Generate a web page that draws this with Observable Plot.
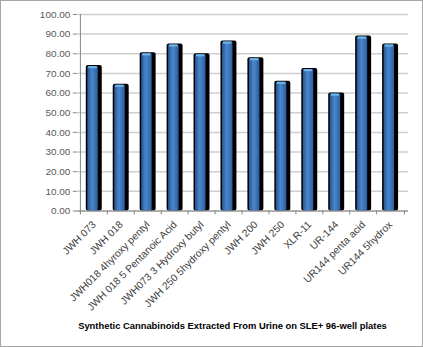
<!DOCTYPE html>
<html><head><meta charset="utf-8">
<script src="https://cdn.jsdelivr.net/npm/d3@7"></script>
<script src="https://cdn.jsdelivr.net/npm/@observablehq/plot@0.6"></script>
<style>
body{margin:0;background:#fff;}
#wrap{position:relative;width:423px;height:347px;box-sizing:border-box;border:1px solid #a6a6a6;overflow:hidden;font-family:"Liberation Sans",Arial,sans-serif;}
#chart{position:absolute;left:-1px;top:-1px;}
#title{position:absolute;left:0;width:423px;top:319px;text-align:center;font-weight:bold;font-size:9.4px;color:#000;padding-left:40px;box-sizing:border-box;}
</style></head>
<body>
<div id="wrap"><div id="chart"></div><div id="title">Synthetic Cannabinoids Extracted From Urine on SLE+ 96-well plates</div></div>
<script>
const categories = ["JWH 073","JWH 018","JWH018 4hyroxy pentyl","JWH 018 5 Pentanoic Acid","JWH073 3 Hydroxy butyl","JWH 250 5hydroxy pentyl","JWH 200","JWH 250","XLR-11","UR-144","UR144 penta acid","UR144 5hydrox"];
const values = [74, 64.5, 80.5, 85, 80, 86.5, 78, 66, 72.5, 60, 89, 85];
const yTicks = [0,10,20,30,40,50,60,70,80,90,100];
const data = categories.map((c,i)=>({cat:c, v:values[i]}));

const chart = Plot.plot({
  width: 423, height: 318,
  marginLeft: 77, marginRight: 14, marginTop: 14, marginBottom: 107,
  style: {fontFamily: '"Liberation Sans", Arial, sans-serif', background: "transparent"},
  x: {domain: categories, paddingInner: 0.39, paddingOuter: 0.195, label: null, axis: null},
  y: {domain: [0,100], label: null, axis: null},
  marks: [
    Plot.gridY(yTicks, {stroke: "#cfcfcf", strokeOpacity: 1, strokeWidth: 1.5}),
    Plot.axisY(yTicks, {tickFormat: d => d.toFixed(2), fontSize: 10, fill: "#595959", stroke: "#868686", tickSize: 4, tickPadding: 3, label: null}),
    Plot.ruleX(categories, {x: d => d, dx: -13.9, y1: 0, y2: -2, stroke: "#868686"}),
    Plot.ruleX([categories[categories.length-1]], {x: d => d, dx: 13.9, y1: 0, y2: -2, stroke: "#868686"}),
    Plot.barY(data, {x: "cat", y: "v", fill: "#000", rx: 2}),
    Plot.barY(data, {x: "cat", y: "v", fill: "url(#barGrad)", insetLeft: 1.5, insetRight: 4, insetTop: 1, rx: 1.5}),
    Plot.barY(data, {x: "cat", y1: d => d.v - 1.6, y2: "v", fill: "#6db3ea", insetLeft: 2.5, insetRight: 5, insetTop: 1}),
    Plot.ruleY([0], {stroke: "#868686"}),
    Plot.ruleX([categories[0]], {x: d => d, dx: -13.9, y1: 0, y2: 100, stroke: "#868686"}),
    Plot.axisX({tickRotate: -45, tickSize: 0, tickPadding: 12, dx: 0, fontSize: 10.3, fill: "#404040", label: null})
  ]
});

const ns = "http://www.w3.org/2000/svg";
const defs = document.createElementNS(ns, "defs");
const lg = document.createElementNS(ns, "linearGradient");
lg.setAttribute("id", "barGrad");
lg.setAttribute("x1", "0"); lg.setAttribute("x2", "1"); lg.setAttribute("y1", "0"); lg.setAttribute("y2", "0");
[["0%","#25558f"],["45%","#4b87cc"],["100%","#2b5f9e"]].forEach(([o,c])=>{
  const s = document.createElementNS(ns, "stop");
  s.setAttribute("offset", o); s.setAttribute("stop-color", c); lg.appendChild(s);
});
defs.appendChild(lg);
chart.insertBefore(defs, chart.firstChild);
document.getElementById("chart").appendChild(chart);
</script>
</body></html>
